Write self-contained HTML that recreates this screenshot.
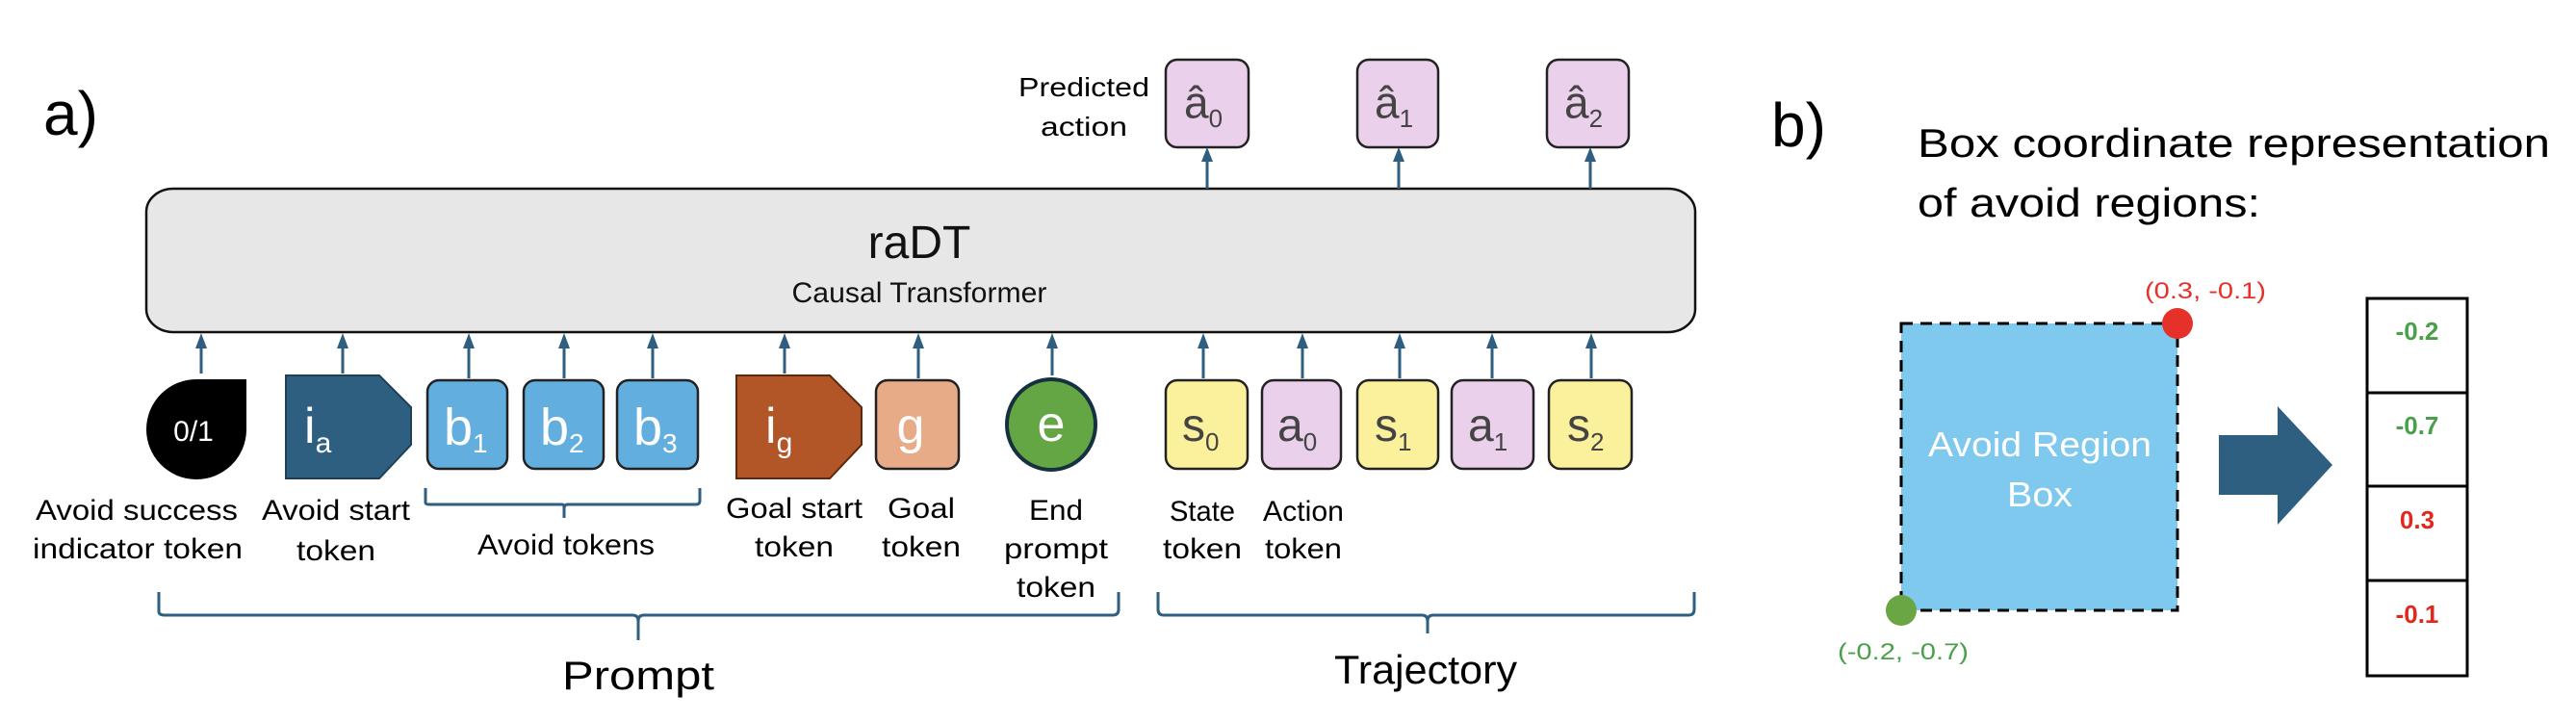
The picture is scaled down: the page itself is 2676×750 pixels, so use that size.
<!DOCTYPE html>
<html><head><meta charset="utf-8"><style>
html,body{margin:0;padding:0;background:#fff;}
svg{display:block;font-family:"Liberation Sans",sans-serif;}
</style></head><body>
<svg width="2676" height="750" viewBox="0 0 2676 750" xmlns="http://www.w3.org/2000/svg">
<!-- a) -->
<text x="45" y="140" font-size="64" fill="#000">a)</text>

<!-- transformer box -->
<rect x="152" y="196" width="1609" height="149" rx="28" ry="24" fill="#e7e7e7" stroke="#111" stroke-width="2.5"/>
<text x="955" y="268" font-size="48" text-anchor="middle" fill="#111">raDT</text>
<text x="955" y="314" font-size="30" text-anchor="middle" fill="#111" textLength="265" lengthAdjust="spacingAndGlyphs">Causal Transformer</text>

<!-- top arrows and predicted boxes -->
<g stroke="#2e5f80" stroke-width="3">
<line x1="1254" y1="196" x2="1254" y2="156"/>
<line x1="1453" y1="196" x2="1453" y2="156"/>
<line x1="1652" y1="196" x2="1652" y2="156"/>
</g>
<g fill="#2e5f80">
<path d="M1248,168 L1254,153 L1260,168 Z"/>
<path d="M1447,168 L1453,153 L1459,168 Z"/>
<path d="M1646,168 L1652,153 L1658,168 Z"/>
</g>
<g fill="#ead0ea" stroke="#222" stroke-width="2.5">
<rect x="1211" y="62" width="86" height="91" rx="12"/>
<rect x="1410" y="62" width="84" height="91" rx="12"/>
<rect x="1607" y="62" width="85" height="91" rx="12"/>
</g>
<g font-size="46" fill="#444">
<text x="1230" y="122">â<tspan font-size="26" dy="10">0</tspan></text>
<text x="1428" y="122">â<tspan font-size="26" dy="10">1</tspan></text>
<text x="1625" y="122">â<tspan font-size="26" dy="10">2</tspan></text>
</g>
<text x="1126" y="100" font-size="28" text-anchor="middle" textLength="136" lengthAdjust="spacingAndGlyphs">Predicted</text>
<text x="1126" y="141" font-size="28" text-anchor="middle" textLength="90" lengthAdjust="spacingAndGlyphs">action</text>

<!-- bottom arrows -->
<g stroke="#2e5f80" stroke-width="3">
<line x1="209" y1="388" x2="209" y2="350"/>
<line x1="356" y1="388" x2="356" y2="350"/>
<line x1="487" y1="393" x2="487" y2="350"/>
<line x1="586" y1="393" x2="586" y2="350"/>
<line x1="678" y1="393" x2="678" y2="350"/>
<line x1="815" y1="388" x2="815" y2="350"/>
<line x1="954" y1="393" x2="954" y2="350"/>
<line x1="1093" y1="390" x2="1093" y2="350"/>
<line x1="1250" y1="393" x2="1250" y2="350"/>
<line x1="1353" y1="393" x2="1353" y2="350"/>
<line x1="1454" y1="393" x2="1454" y2="350"/>
<line x1="1550" y1="393" x2="1550" y2="350"/>
<line x1="1653" y1="393" x2="1653" y2="350"/>
</g>
<g fill="#2e5f80">
<path d="M203,362 L209,346 L215,362 Z"/>
<path d="M350,362 L356,346 L362,362 Z"/>
<path d="M481,362 L487,346 L493,362 Z"/>
<path d="M580,362 L586,346 L592,362 Z"/>
<path d="M672,362 L678,346 L684,362 Z"/>
<path d="M809,362 L815,346 L821,362 Z"/>
<path d="M948,362 L954,346 L960,362 Z"/>
<path d="M1087,362 L1093,346 L1099,362 Z"/>
<path d="M1244,362 L1250,346 L1256,362 Z"/>
<path d="M1347,362 L1353,346 L1359,362 Z"/>
<path d="M1448,362 L1454,346 L1460,362 Z"/>
<path d="M1544,362 L1550,346 L1556,362 Z"/>
<path d="M1647,362 L1653,346 L1659,362 Z"/>
</g>

<!-- tokens -->
<path d="M256,394 L256,447 A52,52 0 1 1 204,394 Z" fill="#000"/>
<text x="201" y="458" font-size="30" fill="#fff" text-anchor="middle">0/1</text>

<path d="M297,390 L394,390 L427,423 L427,462 L394,497 L297,497 Z" fill="#2e5f80" stroke="#1f3f55" stroke-width="2"/>
<text x="316" y="460" font-size="52" fill="#fff">i<tspan font-size="30" dy="10">a</tspan></text>

<g fill="#62aede" stroke="#222" stroke-width="2.5">
<rect x="444" y="395" width="83" height="92" rx="12"/>
<rect x="544" y="395" width="83" height="92" rx="12"/>
<rect x="641" y="395" width="84" height="92" rx="12"/>
</g>
<g font-size="54" fill="#fff">
<text x="461" y="462">b<tspan font-size="28" dy="8">1</tspan></text>
<text x="561" y="462">b<tspan font-size="28" dy="8">2</tspan></text>
<text x="658" y="462">b<tspan font-size="28" dy="8">3</tspan></text>
</g>

<path d="M765,390 L862,390 L895,423 L895,462 L862,497 L765,497 Z" fill="#b25628" stroke="#5a2a10" stroke-width="2"/>
<text x="795" y="460" font-size="52" fill="#fff">i<tspan font-size="30" dy="10">g</tspan></text>

<rect x="910" y="395" width="86" height="92" rx="12" fill="#e8ab88" stroke="#222" stroke-width="2.5"/>
<text x="946" y="460" font-size="52" fill="#fff" text-anchor="middle">g</text>

<ellipse cx="1092" cy="441" rx="46" ry="47" fill="#64a644" stroke="#15303e" stroke-width="4"/>
<text x="1092" y="458" font-size="52" fill="#fff" text-anchor="middle">e</text>

<g stroke="#222" stroke-width="2.5">
<rect x="1211" y="395" width="85" height="92" rx="12" fill="#fbf09b"/>
<rect x="1311" y="395" width="82" height="92" rx="12" fill="#ead0ea"/>
<rect x="1410" y="395" width="84" height="92" rx="12" fill="#fbf09b"/>
<rect x="1508" y="395" width="85" height="92" rx="12" fill="#ead0ea"/>
<rect x="1609" y="395" width="86" height="92" rx="12" fill="#fbf09b"/>
</g>
<g font-size="48" fill="#444">
<text x="1228" y="458">s<tspan font-size="26" dy="10">0</tspan></text>
<text x="1327" y="458">a<tspan font-size="26" dy="10">0</tspan></text>
<text x="1428" y="458">s<tspan font-size="26" dy="10">1</tspan></text>
<text x="1525" y="458">a<tspan font-size="26" dy="10">1</tspan></text>
<text x="1628" y="458">s<tspan font-size="26" dy="10">2</tspan></text>
</g>

<!-- labels -->
<g font-size="30" fill="#000" text-anchor="middle">
<text x="142" y="540" textLength="210" lengthAdjust="spacingAndGlyphs">Avoid success</text>
<text x="143" y="580" textLength="218" lengthAdjust="spacingAndGlyphs">indicator token</text>
<text x="349" y="540" textLength="154" lengthAdjust="spacingAndGlyphs">Avoid start</text>
<text x="349" y="582" textLength="82" lengthAdjust="spacingAndGlyphs">token</text>
<text x="588" y="576" textLength="184" lengthAdjust="spacingAndGlyphs">Avoid tokens</text>
<text x="825" y="538" textLength="142" lengthAdjust="spacingAndGlyphs">Goal start</text>
<text x="825" y="578" textLength="82" lengthAdjust="spacingAndGlyphs">token</text>
<text x="957" y="538" textLength="70" lengthAdjust="spacingAndGlyphs">Goal</text>
<text x="957" y="578" textLength="82" lengthAdjust="spacingAndGlyphs">token</text>
<text x="1097" y="540" textLength="56" lengthAdjust="spacingAndGlyphs">End</text>
<text x="1097" y="580" textLength="108" lengthAdjust="spacingAndGlyphs">prompt</text>
<text x="1097" y="620" textLength="82" lengthAdjust="spacingAndGlyphs">token</text>
<text x="1249" y="541" textLength="68" lengthAdjust="spacingAndGlyphs">State</text>
<text x="1249" y="580" textLength="82" lengthAdjust="spacingAndGlyphs">token</text>
<text x="1354" y="541" textLength="84" lengthAdjust="spacingAndGlyphs">Action</text>
<text x="1354" y="580" textLength="80" lengthAdjust="spacingAndGlyphs">token</text>
</g>

<!-- braces -->
<g fill="none" stroke="#2e5f80" stroke-width="3">
<path d="M442,507 L442,522 Q442,524 446,524 L584,524 Q586,524 586,528 L586,538 M586,528 Q586,524 590,524 L723,524 Q727,524 727,520 L727,507"/>
<path d="M165,615 L165,635 Q165,639 171,639 L657,639 Q663,639 663,645 L663,665 M663,645 Q663,639 669,639 L1156,639 Q1162,639 1162,633 L1162,615"/>
<path d="M1203,615 L1203,633 Q1203,639 1209,639 L1477,639 Q1483,639 1483,645 L1483,658 M1483,645 Q1483,639 1489,639 L1754,639 Q1760,639 1760,633 L1760,615"/>
</g>
<text x="663" y="716" font-size="42" text-anchor="middle" textLength="158" lengthAdjust="spacingAndGlyphs">Prompt</text>
<text x="1481" y="710" font-size="42" text-anchor="middle" textLength="190" lengthAdjust="spacingAndGlyphs">Trajectory</text>

<!-- b) -->
<text x="1840" y="152" font-size="64" fill="#000">b)</text>
<text x="1992" y="163" font-size="42" textLength="657" lengthAdjust="spacingAndGlyphs">Box coordinate representation</text>
<text x="1992" y="225" font-size="42" textLength="356" lengthAdjust="spacingAndGlyphs">of avoid regions:</text>

<rect x="1975" y="336" width="287" height="298" fill="#7fc8ee" stroke="#000" stroke-width="3" stroke-dasharray="12,8"/>
<circle cx="2262" cy="336" r="16" fill="#e6302a"/>
<circle cx="1975" cy="634" r="16" fill="#6aa744"/>
<text x="2291" y="310" font-size="24" fill="#e6302a" text-anchor="middle" textLength="126" lengthAdjust="spacingAndGlyphs">(0.3, -0.1)</text>
<text x="1977" y="685" font-size="24" fill="#4aa04a" text-anchor="middle" textLength="136" lengthAdjust="spacingAndGlyphs">(-0.2, -0.7)</text>
<text x="2119" y="474" font-size="36" fill="#fff" text-anchor="middle" textLength="232" lengthAdjust="spacingAndGlyphs">Avoid Region</text>
<text x="2119" y="526" font-size="36" fill="#fff" text-anchor="middle" textLength="68" lengthAdjust="spacingAndGlyphs">Box</text>

<path d="M2305,452 L2366,452 L2366,422 L2423,483 L2366,545 L2366,514 L2305,514 Z" fill="#2e5f80"/>

<g fill="#fff" stroke="#000" stroke-width="3">
<rect x="2459" y="310" width="104" height="392"/>
<line x1="2459" y1="408" x2="2563" y2="408"/>
<line x1="2459" y1="505" x2="2563" y2="505"/>
<line x1="2459" y1="603" x2="2563" y2="603"/>
</g>
<g font-size="26" font-weight="bold" text-anchor="middle">
<text x="2511" y="353" fill="#4aa04a">-0.2</text>
<text x="2511" y="451" fill="#4aa04a">-0.7</text>
<text x="2511" y="549" fill="#e0281e">0.3</text>
<text x="2511" y="647" fill="#e0281e">-0.1</text>
</g>
</svg>
</body></html>
